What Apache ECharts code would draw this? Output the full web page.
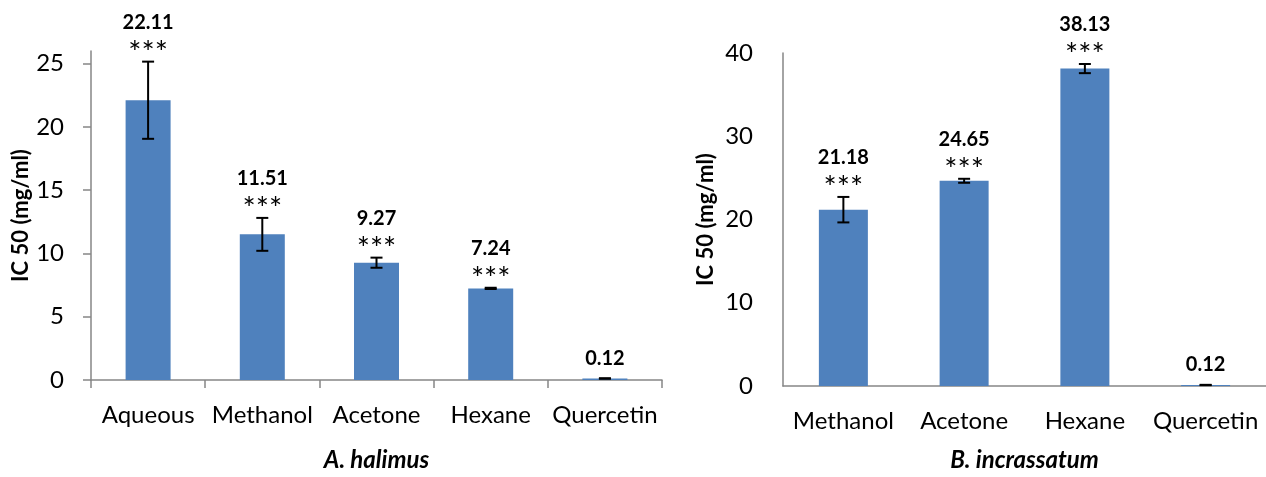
<!DOCTYPE html>
<html>
<head>
<meta charset="utf-8">
<script src="https://cdn.jsdelivr.net/npm/echarts@6/dist/echarts.min.js"></script>
<style>
    html, body { margin: 0; padding: 0; background: #fff; }
    #chart { width: 1266px; height: 477px; }
</style>
</head>
<body>
<div id="chart"></div>
<script>
    // A. halimus
    var leftCats = ['Aqueous', 'Methanol', 'Acetone', 'Hexane', 'Quercetin'];
    var leftVals = [22.11, 11.51, 9.27, 7.24, 0.12];
    var leftErr = [3.05, 1.3, 0.4, 0.05, 0.02];
    var leftStars = ['***', '***', '***', '***', ''];
    var leftTicks = [0, 5, 10, 15, 20, 25];

    // B. incrassatum
    var rightCats = ['Methanol', 'Acetone', 'Hexane', 'Quercetin'];
    var rightVals = [21.18, 24.65, 38.13, 0.12];
    var rightErr = [1.53, 0.24, 0.55, 0.02];
    var rightStars = ['***', '***', '***', ''];

    var FONT = 'Lato';
    var BLUE = '#4F81BD';
    var GREY = '#868686';

    // error bars + the two-line labels above them
    function errorBars(stars) {
        return function (params, api) {
            var i = api.value(0), v = api.value(1), e = api.value(2);
            var top = api.coord([i, v + e]);
            var bot = api.coord([i, v - e]);
            var x = top[0], cap = 6;
            var lineStyle = { stroke: '#000', lineWidth: 2 };
            var kids = [
                { type: 'line', shape: { x1: x, y1: top[1], x2: x, y2: bot[1] }, style: lineStyle },
                { type: 'line', shape: { x1: x - cap, y1: top[1], x2: x + cap, y2: top[1] }, style: lineStyle },
                { type: 'line', shape: { x1: x - cap, y1: bot[1], x2: x + cap, y2: bot[1] }, style: lineStyle }
            ];
            var s = stars[params.dataIndex];
            if (s) {
                kids.push({ type: 'text', style: { text: s, x: x, y: top[1] - 9, align: 'center', verticalAlign: 'middle',
                    fontFamily: FONT, fontSize: 31, fill: '#000' } });
            }
            kids.push({ type: 'text', style: { text: v.toFixed(2), x: x, y: top[1] - (s ? 39 : 20), align: 'center',
                verticalAlign: 'middle', fontFamily: FONT, fontSize: 20, fontWeight: 'bold', fill: '#000' } });
            return { type: 'group', children: kids };
        };
    }

    var chart = echarts.init(document.getElementById('chart'));

    var option = {
        animation: false,
        textStyle: { fontFamily: FONT },
        grid: [
            { left: 91, top: 51, width: 571, height: 334 },
            { left: 783, top: 53, width: 493, height: 339 }
        ],
        xAxis: [
            {
                type: 'category', gridIndex: 0, data: leftCats,
                axisLine: { lineStyle: { color: GREY, width: 1.5 } },
                axisTick: { show: true, length: 8, lineStyle: { color: GREY, width: 1.5 } },
                axisLabel: { color: '#000', fontSize: 24, margin: 23, interval: 0 },
                name: 'A. halimus', nameLocation: 'middle', nameGap: 68,
                nameTextStyle: { color: '#000', fontSize: 24, fontWeight: 'bold', fontStyle: 'italic' }
            },
            {
                type: 'category', gridIndex: 1, data: rightCats,
                axisLine: { lineStyle: { color: GREY, width: 1.5 } },
                axisTick: { show: false },
                axisLabel: { color: '#000', fontSize: 24, margin: 23, interval: 0 },
                name: 'B. incrassatum', nameLocation: 'middle', nameGap: 62,
                nameTextStyle: { color: '#000', fontSize: 24, fontWeight: 'bold', fontStyle: 'italic' }
            }
        ],
        yAxis: [
            {
                type: 'value', gridIndex: 0, min: 0, max: 26, interval: 5,
                axisLine: { show: true, lineStyle: { color: GREY, width: 1.5 } },
                axisTick: { show: true, length: 8, customValues: leftTicks, lineStyle: { color: GREY, width: 1.5 } },
                axisLabel: { color: '#000', fontSize: 24, margin: 27, customValues: leftTicks },
                splitLine: { show: false },
                name: 'IC 50 (mg/ml)', nameLocation: 'middle', nameGap: 59,
                nameTextStyle: { color: '#000', fontSize: 22, fontWeight: 'bold' }
            },
            {
                type: 'value', gridIndex: 1, min: 0, max: 40, interval: 10,
                axisLine: { show: true, lineStyle: { color: GREY, width: 1.5 } },
                axisTick: { show: false },
                axisLabel: { color: '#000', fontSize: 24, margin: 30 },
                splitLine: { show: false },
                name: 'IC 50 (mg/ml)', nameLocation: 'middle', nameGap: 66,
                nameTextStyle: { color: '#000', fontSize: 22, fontWeight: 'bold' }
            }
        ],
        series: [
            {
                type: 'bar', xAxisIndex: 0, yAxisIndex: 0, data: leftVals,
                barWidth: 45, itemStyle: { color: BLUE }
            },
            {
                type: 'custom', xAxisIndex: 0, yAxisIndex: 0, z: 5,
                renderItem: errorBars(leftStars),
                data: leftVals.map(function (v, i) { return [i, v, leftErr[i]]; })
            },
            {
                type: 'bar', xAxisIndex: 1, yAxisIndex: 1, data: rightVals,
                barWidth: 49, itemStyle: { color: BLUE }
            },
            {
                type: 'custom', xAxisIndex: 1, yAxisIndex: 1, z: 5,
                renderItem: errorBars(rightStars),
                data: rightVals.map(function (v, i) { return [i, v, rightErr[i]]; })
            }
        ]
    };

    chart.setOption(option);
</script>
</body>
</html>
